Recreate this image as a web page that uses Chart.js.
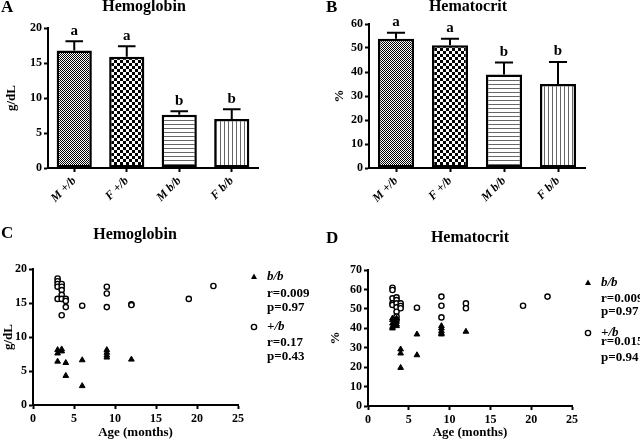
<!DOCTYPE html>
<html>
<head>
<meta charset="utf-8">
<script src="https://cdn.jsdelivr.net/npm/chart.js@4.4.0/dist/chart.umd.min.js"></script>
<style>
body { margin: 0; background: #fff; width: 640px; height: 440px; position: relative; overflow: hidden; }
.panel { position: absolute; width: 320px; height: 220px; }
</style>
</head>
<body>
<div class="panel" style="left:0;top:0"><canvas id="chartA"></canvas></div>
<div class="panel" style="left:320px;top:0"><canvas id="chartB"></canvas></div>
<div class="panel" style="left:0;top:220px"><canvas id="chartC"></canvas></div>
<div class="panel" style="left:320px;top:220px"><canvas id="chartD"></canvas></div>
<script>
// Bar panels (A, B)
const groups = ['M +/b', 'F +/b', 'M b/b', 'F b/b'];
const hbMean = [16.8, 15.9, 7.6, 7.0];
const hbSd = [1.3, 1.5, 0.5, 1.4];
const hctMean = [53.9, 51.1, 39.0, 35.0];
const hctSd = [2.5, 2.8, 5.0, 9.2];
const sigLetters = ['a', 'a', 'b', 'b'];

// Scatter panel C - hemoglobin vs age
const hetAgeC = [3, 3, 3, 3, 3, 3.5, 3.5, 3.5, 3.5, 3.5, 3.5, 4, 4, 4, 6, 9, 9, 9, 12, 12, 19, 22];
const hetHbC = [18.6, 18.2, 17.8, 17.4, 15.6, 17.8, 17.4, 16.9, 16.2, 15.6, 13.2, 15.6, 15.3, 14.4, 14.6, 17.4, 16.4, 14.4, 14.8, 14.7, 15.6, 17.5];
const bbAgeC = [3, 3, 3, 3.5, 3.5, 4, 4, 6, 6, 9, 9, 9, 9, 12];
const bbHbC = [8.1, 7.6, 6.4, 8.2, 7.9, 6.2, 4.3, 6.6, 2.8, 8.1, 7.7, 7.3, 7.0, 6.7];

// Scatter panel D - hematocrit vs age
const hetAgeD = [3, 3, 3, 3, 3, 3.5, 3.5, 3.5, 3.5, 3.5, 3.5, 3.5, 4, 4, 4, 6, 9, 9, 9, 12, 12, 19, 22];
const hetHctD = [60.9, 59.7, 55.4, 52.8, 52.0, 55.9, 54.5, 52.8, 50.8, 48.5, 46.0, 44.3, 52.8, 51.5, 50.3, 50.6, 56.3, 51.6, 45.6, 52.8, 50.3, 51.6, 56.3];
const bbAgeD = [3, 3, 3, 3, 3, 3.5, 3.5, 3.5, 3.5, 4, 4, 4, 6, 6, 9, 9, 9, 9, 9, 12];
const bbHctD = [45.1, 44.3, 42.5, 40.8, 40.0, 45.1, 43.4, 42.0, 41.2, 29.2, 27.1, 19.7, 36.9, 26.2, 41.2, 40.0, 38.6, 37.5, 36.9, 38.3];

// correlation stats shown in the legends: [b/b, +/b]
const statsR_C = ['0.009', '0.17'];
const statsP_C = ['0.97', '0.43'];
const statsR_D = ['0.009', '0.015'];
const statsP_D = ['0.97', '0.94'];

const SERIF = '"Liberation Serif", "Times New Roman", serif';
Chart.defaults.font.family = SERIF;
Chart.defaults.font.weight = 'bold';
Chart.defaults.color = '#000';
Chart.defaults.animation = false;

function zip(xs, ys) {
    return xs.map((x, i) => ({ x: x, y: ys[i] }));
}

function makePattern(kind) {
    const c = document.createElement('canvas');
    const g = c.getContext('2d');
    if (kind === 'fine') {
        c.width = 2; c.height = 2;
        g.fillStyle = '#fff'; g.fillRect(0, 0, 2, 2);
        g.fillStyle = '#000'; g.fillRect(0, 0, 1, 1); g.fillRect(1, 1, 1, 1);
    } else if (kind === 'checker') {
        c.width = 6; c.height = 6;
        g.fillStyle = '#fff'; g.fillRect(0, 0, 6, 6);
        g.fillStyle = '#000'; g.fillRect(0, 0, 3, 3); g.fillRect(3, 3, 3, 3);
    } else if (kind === 'hlines') {
        c.width = 4; c.height = 4;
        g.fillStyle = '#fff'; g.fillRect(0, 0, 4, 4);
        g.fillStyle = '#666'; g.fillRect(0, 0, 4, 1);
    } else {
        c.width = 4; c.height = 4;
        g.fillStyle = '#fff'; g.fillRect(0, 0, 4, 4);
        g.fillStyle = '#666'; g.fillRect(0, 0, 1, 4);
    }
    return g.createPattern(c, 'repeat');
}

// panel letter and title
const panelText = {
    id: 'panelText',
    afterDraw(chart, args, opts) {
        const ctx = chart.ctx;
        ctx.save();
        ctx.fillStyle = '#000';
        ctx.textBaseline = 'middle';
        ctx.textAlign = 'left';
        ctx.font = 'bold 17px ' + SERIF;
        ctx.fillText(opts.letter, opts.letterX, opts.letterY);
        ctx.textAlign = 'center';
        ctx.font = 'bold 16px ' + SERIF;
        ctx.fillText(opts.title, opts.titleX, opts.titleY);
        ctx.restore();
    }
};

// upper SD bars with significance letters
const errorBars = {
    id: 'errorBars',
    afterDatasetsDraw(chart, args, opts) {
        if (!opts.means) return;
        const ctx = chart.ctx;
        const yScale = chart.scales.y;
        const meta = chart.getDatasetMeta(0);
        ctx.save();
        ctx.strokeStyle = '#000';
        ctx.fillStyle = '#000';
        ctx.lineWidth = 2;
        ctx.font = 'bold 15px ' + SERIF;
        ctx.textAlign = 'center';
        ctx.textBaseline = 'bottom';
        meta.data.forEach(function(bar, i) {
            const top = yScale.getPixelForValue(opts.means[i] + opts.sds[i]);
            const half = bar.width / 4;
            ctx.beginPath();
            ctx.moveTo(bar.x, bar.y);
            ctx.lineTo(bar.x, top);
            ctx.moveTo(bar.x - half, top);
            ctx.lineTo(bar.x + half, top);
            ctx.stroke();
            ctx.fillText(opts.letters[i], bar.x, top - 3);
        });
        ctx.restore();
    }
};

// legend with r / p values on the right of the scatter plots
const statLegend = {
    id: 'statLegend',
    afterDraw(chart, args, opts) {
        if (!opts.rows) return;
        const ctx = chart.ctx;
        const area = chart.chartArea;
        const mx = area.right + 16, tx = area.right + 29;
        ctx.save();
        ctx.textAlign = 'left';
        ctx.textBaseline = 'middle';
        ctx.fillStyle = '#000';
        ctx.strokeStyle = '#000';
        opts.rows.forEach(function(row) {
            const y = area.top + row.dy;
            if (row.marker === 'triangle') {
                ctx.beginPath();
                ctx.moveTo(mx, y - 3.5);
                ctx.lineTo(mx + 3, y + 2);
                ctx.lineTo(mx - 3, y + 2);
                ctx.closePath();
                ctx.fill();
            } else if (row.marker === 'circle') {
                ctx.beginPath();
                ctx.lineWidth = 1.4;
                ctx.arc(mx, y, 2.6, 0, Math.PI * 2);
                ctx.stroke();
            }
            ctx.font = (row.italic ? 'italic ' : '') + 'bold 13px ' + SERIF;
            ctx.fillText(row.text, tx, y);
        });
        ctx.restore();
    }
};

function axisStyle() {
    return {
        grid: { display: true, drawOnChartArea: false, drawTicks: true, tickLength: 4, tickWidth: 2, tickColor: '#000', offset: false },
        border: { display: true, color: '#000', width: 2 }
    };
}

function makeBarChart(id, means, sds, yMax, yStep, yTitle, yWidth, padLeft, text) {
    const ctx = document.getElementById(id).getContext('2d');
    const xAxis = axisStyle();
    const yAxis = axisStyle();
    new Chart(ctx, {
        type: 'bar',
        data: {
            labels: groups,
            datasets: [{
                data: means,
                backgroundColor: [makePattern('fine'), makePattern('checker'), makePattern('hlines'), makePattern('vlines')],
                borderColor: '#000',
                borderWidth: 2.5,
                borderSkipped: false,
                categoryPercentage: 1,
                barPercentage: 0.67
            }]
        },
        options: {
            responsive: true,
            maintainAspectRatio: false,
            layout: { padding: { left: padLeft, top: text.plotTop, right: text.padRight, bottom: 0 } },
            plugins: {
                legend: { display: false },
                tooltip: { enabled: false },
                panelText: text,
                errorBars: { means: means, sds: sds, letters: sigLetters }
            },
            scales: {
                x: Object.assign(xAxis, {
                    ticks: { minRotation: 45, maxRotation: 45, padding: 2, font: { size: 12, style: 'italic', weight: 'bold' } },
                    afterFit: function(s) { s.height = 220 - text.plotTop - text.plotHeight; }
                }),
                y: Object.assign(yAxis, {
                    min: 0, max: yMax,
                    ticks: { stepSize: yStep, padding: 2, font: { size: 12, weight: 'bold' } },
                    title: { display: true, text: yTitle, font: { size: 13, weight: 'bold' }, padding: { top: 4, bottom: 0 } },
                    afterFit: function(s) { s.width = yWidth; }
                })
            }
        },
        plugins: [panelText, errorBars]
    });
}

function makeScatter(id, bbData, hetData, yMax, yStep, yTitle, yWidth, padLeft, text, rows) {
    const ctx = document.getElementById(id).getContext('2d');
    const xAxis = axisStyle();
    const yAxis = axisStyle();
    new Chart(ctx, {
        type: 'scatter',
        data: {
            datasets: [{
                label: 'b/b',
                data: bbData,
                pointStyle: 'triangle',
                pointRadius: 3.3,
                backgroundColor: '#000',
                borderColor: '#000',
                borderWidth: 1
            }, {
                label: '+/b',
                data: hetData,
                pointStyle: 'circle',
                pointRadius: 2.6,
                backgroundColor: '#fff',
                borderColor: '#000',
                borderWidth: 1.4
            }]
        },
        options: {
            responsive: true,
            maintainAspectRatio: false,
            layout: { padding: { left: padLeft, top: text.plotTop, right: text.padRight, bottom: 0 } },
            plugins: {
                legend: { display: false },
                tooltip: { enabled: false },
                panelText: text,
                statLegend: { rows: rows }
            },
            scales: {
                x: Object.assign(xAxis, {
                    type: 'linear', min: 0, max: 25,
                    ticks: { stepSize: 5, padding: 3, font: { size: 12, weight: 'bold' } },
                    title: { display: true, text: 'Age (months)', font: { size: 13, weight: 'bold' }, padding: { top: 0, bottom: 0 } },
                    afterFit: function(s) { s.height = 220 - text.plotTop - text.plotHeight; }
                }),
                y: Object.assign(yAxis, {
                    min: 0, max: yMax,
                    ticks: { stepSize: yStep, padding: 2, font: { size: 12, weight: 'bold' } },
                    title: { display: true, text: yTitle, font: { size: 13, weight: 'bold' }, padding: { top: 1, bottom: 0 } },
                    afterFit: function(s) { s.width = yWidth; }
                })
            }
        },
        plugins: [panelText, statLegend]
    });
}

function legendRows(r, p, offsets) {
    return [
        { marker: 'triangle', text: 'b/b', italic: true, dy: offsets[0] },
        { text: 'r=' + r[0], dy: offsets[1] },
        { text: 'p=' + p[0], dy: offsets[2] },
        { marker: 'circle', text: '+/b', italic: true, dy: offsets[3] },
        { text: 'r=' + r[1], dy: offsets[4] },
        { text: 'p=' + p[1], dy: offsets[5] }
    ];
}

window.addEventListener('DOMContentLoaded', function() {
    makeBarChart('chartA', hbMean, hbSd, 20, 5, 'g/dL', 48, 0,
        { letter: 'A', letterX: 1, letterY: 8, title: 'Hemoglobin', titleX: 144, titleY: 7, plotTop: 28, plotHeight: 140, padRight: 62 });
    makeBarChart('chartB', hctMean, hctSd, 60, 10, '%', 41, 8,
        { letter: 'B', letterX: 6, letterY: 8, title: 'Hematocrit', titleX: 148, titleY: 7, plotTop: 24, plotHeight: 144, padRight: 55 });
    makeScatter('chartC', zip(bbAgeC, bbHbC), zip(hetAgeC, hetHbC), 20, 5, 'g/dL', 33, 0,
        { letter: 'C', letterX: 1, letterY: 14, title: 'Hemoglobin', titleX: 135, titleY: 15, plotTop: 49, plotHeight: 136, padRight: 82 },
        legendRows(statsR_C, statsP_C, [8, 25, 39, 58, 74, 88]));
    makeScatter('chartD', zip(bbAgeD, bbHctD), zip(hetAgeD, hetHctD), 70, 10, '%', 41, 7,
        { letter: 'D', letterX: 6, letterY: 19, title: 'Hematocrit', titleX: 150, titleY: 18, plotTop: 50, plotHeight: 136, padRight: 68 },
        legendRows(statsR_D, statsP_D, [13, 29, 42, 63, 72, 88]));
});
</script>
</body>
</html>
